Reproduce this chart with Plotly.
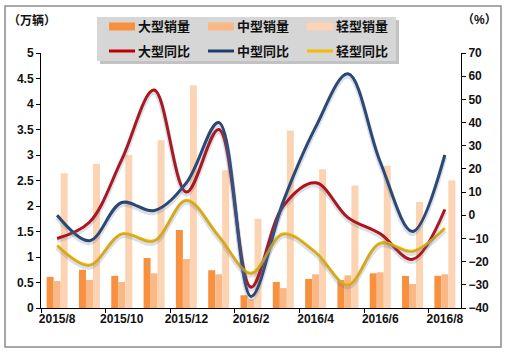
import plotly.graph_objects as go

# ---------------- data ----------------
months = ['2015/8', '2015/9', '2015/10', '2015/11', '2015/12', '2016/1', '2016/2',
          '2016/3', '2016/4', '2016/5', '2016/6', '2016/7', '2016/8']
large_sales = [0.61, 0.75, 0.63, 0.98, 1.53, 0.74, 0.25, 0.51, 0.57, 0.55, 0.68, 0.63, 0.63]
medium_sales = [0.53, 0.55, 0.51, 0.68, 0.96, 0.66, 0.17, 0.39, 0.66, 0.64, 0.70, 0.47, 0.66]
light_sales = [2.64, 2.83, 3.00, 3.29, 4.37, 2.70, 1.75, 3.48, 2.72, 2.40, 2.79, 2.08, 2.50]
large_yoy = [-10, -3, 24, 54, 10, 37, -31, 4, 14, -1, -8, -19, 2.5]
medium_yoy = [0, -11, 5.5, 2, 14, 40, -35, 6, 38, 61, 23, -7, 26]
light_yoy = [-13, -21.5, -8, -11, 6.5, -9, -25, -8, -16, -30, -12, -15.5, -5.5]

bar_names = ['大型销量', '中型销量', '轻型销量']
line_names = ['大型同比', '中型同比', '轻型同比']
bar_colors = ['#F7913F', '#F9B886', '#FCD3B3']
line_colors = ['#C00000', '#1F3F6E', '#F7BA00']

# ---------------- layout geometry ----------------
W, H = 509, 355
L, R, T, B = 41, 461, 53, 308


def px(x):
    return (x - L) / (R - L)


def py(y):
    return (B - y) / (B - T)


FONT = 'Liberation Sans, Arial, Noto Sans CJK SC, sans-serif'

fig = go.Figure()

for name, vals, col in zip(bar_names, [large_sales, medium_sales, light_sales], bar_colors):
    fig.add_trace(go.Bar(x=months, y=vals, name=name, marker=dict(color=col, line=dict(width=0)),
                         showlegend=False, yaxis='y'))

# soft shadows under the lines
for vals in [large_yoy, medium_yoy, light_yoy]:
    fig.add_trace(go.Scatter(x=months, y=vals, mode='lines', yaxis='y3',
                             line=dict(color='rgba(90,110,150,0.22)', width=5, shape='spline', smoothing=1),
                             showlegend=False, hoverinfo='skip'))

for name, vals, col in zip(line_names, [large_yoy, medium_yoy, light_yoy], line_colors):
    fig.add_trace(go.Scatter(x=months, y=vals, name=name, mode='lines', yaxis='y2',
                             line=dict(color=col, width=3, shape='spline', smoothing=1),
                             showlegend=False))

shapes = []
annotations = []

# outer frame
shapes.append(dict(type='rect', xref='paper', yref='paper', x0=px(5), x1=px(501), y0=py(347), y1=py(6),
                   line=dict(color='#8C8C8C', width=1.5), layer='below'))

# legend box with shadow
lx0, lx1, ly0, ly1 = 97, 396, 17, 61
shapes.append(dict(type='rect', xref='paper', yref='paper', x0=px(lx0 + 3), x1=px(lx1 + 3),
                   y0=py(ly1 + 3), y1=py(ly0 + 3), line=dict(width=0), fillcolor='rgba(120,120,120,0.45)'))
shapes.append(dict(type='rect', xref='paper', yref='paper', x0=px(lx0), x1=px(lx1),
                   y0=py(ly1), y1=py(ly0), line=dict(width=0), fillcolor='#D6D6D6'))

col_x = [109, 208, 307]
row_y = [26.5, 51]
for i in range(3):
    x0 = col_x[i]
    shapes.append(dict(type='rect', xref='paper', yref='paper', x0=px(x0), x1=px(x0 + 26),
                       y0=py(row_y[0] + 4), y1=py(row_y[0] - 4), line=dict(width=0), fillcolor=bar_colors[i]))
    annotations.append(dict(xref='paper', yref='paper', x=px(x0 + 27), y=py(row_y[0]), text=bar_names[i],
                            showarrow=False, xanchor='left', yanchor='middle',
                            font=dict(size=13, color='#111111', family=FONT, weight='bold')))
    shapes.append(dict(type='line', xref='paper', yref='paper', x0=px(x0), x1=px(x0 + 26),
                       y0=py(row_y[1]), y1=py(row_y[1]), line=dict(color=line_colors[i], width=3)))
    annotations.append(dict(xref='paper', yref='paper', x=px(x0 + 27), y=py(row_y[1]), text=line_names[i],
                            showarrow=False, xanchor='left', yanchor='middle',
                            font=dict(size=13, color='#111111', family=FONT, weight='bold')))

# axis titles
annotations.append(dict(xref='paper', yref='paper', x=px(32), y=py(20), text='（万辆）', showarrow=False,
                        xanchor='center', yanchor='middle',
                        font=dict(size=12, color='#111111', family=FONT, weight='bold')))
annotations.append(dict(xref='paper', yref='paper', x=px(479), y=py(20), text='（%）', showarrow=False,
                        xanchor='center', yanchor='middle',
                        font=dict(size=12, color='#111111', family=FONT, weight='bold')))

tickfont = dict(size=12, color='#111111', family=FONT, weight='bold')

fig.update_layout(
    width=W, height=H,
    margin=dict(l=L, r=W - R, t=T, b=H - B, pad=0, autoexpand=False),
    paper_bgcolor='white', plot_bgcolor='white',
    barmode='group', bargap=0.35, bargroupgap=0,
    font=dict(family=FONT, size=12, color='#111111'),
    showlegend=False,
    xaxis=dict(type='category', range=[-0.5, 12.5], dtick=2, tickson='boundaries', ticks='outside',
               ticklen=4, tickcolor='black', showline=True, linecolor='black', linewidth=1,
               showgrid=False, zeroline=False, tickfont=tickfont, tickangle=0, automargin=False),
    yaxis=dict(range=[0, 5], dtick=0.5, ticks='outside', ticklen=4, tickcolor='black',
               showline=True, linecolor='black', linewidth=1, showgrid=False, zeroline=False,
               tickfont=tickfont, automargin=False),
    yaxis2=dict(range=[-40, 70], dtick=10, overlaying='y', side='right', ticks='outside', ticklen=4,
                tickcolor='black', showline=True, linecolor='black', linewidth=1, showgrid=False,
                zeroline=False, tickfont=tickfont, automargin=False),
    yaxis3=dict(range=[-40 + 0.9, 70 + 0.9], overlaying='y', visible=False, automargin=False),
    shapes=shapes,
    annotations=annotations,
)

fig.write_html('out.html', config={'displayModeBar': False},
               post_script="document.body.style.margin='0';document.body.style.overflow='hidden';")
